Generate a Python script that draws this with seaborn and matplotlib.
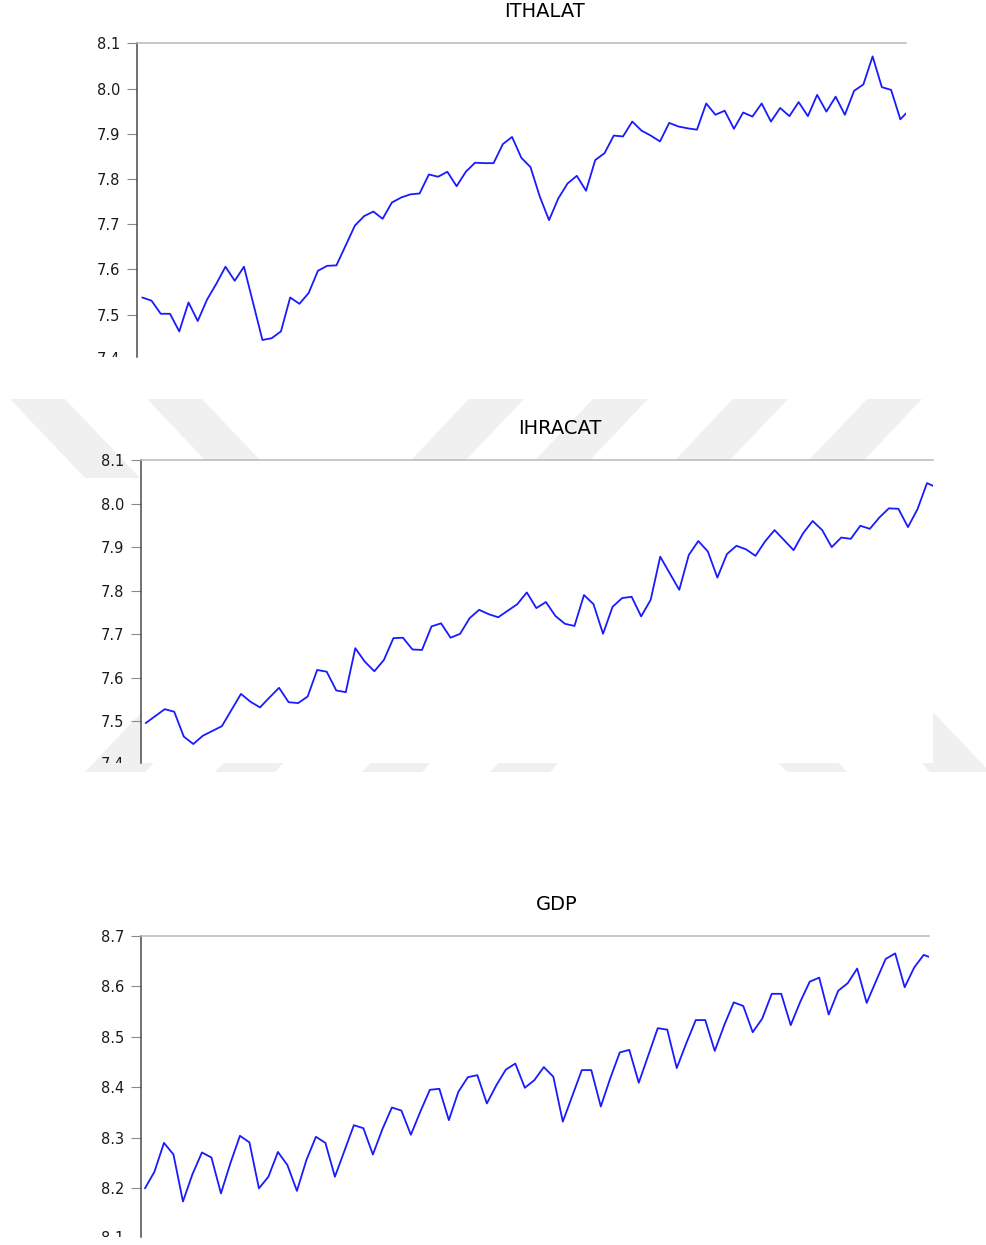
import numpy as np
import pandas as pd
import matplotlib
matplotlib.use("Agg")
import matplotlib.pyplot as plt
import seaborn as sns
from matplotlib.patches import Polygon
from matplotlib.transforms import Bbox, TransformedBbox

# Series values (84 quarterly obs, last one cut by the frame)
ithalat = [7.538, 7.531, 7.502, 7.502, 7.463, 7.527, 7.486, 7.533, 7.568, 7.606,
           7.575, 7.606, 7.525, 7.444, 7.448, 7.463, 7.538, 7.524, 7.548, 7.597,
           7.608, 7.609, 7.653, 7.697, 7.718, 7.728, 7.712, 7.748, 7.759, 7.766,
           7.768, 7.810, 7.805, 7.816, 7.784, 7.816, 7.836, 7.835, 7.835, 7.877,
           7.893, 7.847, 7.826, 7.761, 7.709, 7.757, 7.790, 7.807, 7.774, 7.842,
           7.857, 7.896, 7.894, 7.927, 7.907, 7.896, 7.883, 7.924, 7.916, 7.912,
           7.909, 7.967, 7.942, 7.951, 7.911, 7.947, 7.938, 7.967, 7.927, 7.957,
           7.939, 7.970, 7.939, 7.986, 7.949, 7.982, 7.942, 7.995, 8.009, 8.071,
           8.003, 7.997, 7.932, 7.953]

ihracat = [7.496, 7.512, 7.528, 7.522, 7.465, 7.448, 7.467, 7.478, 7.489, 7.526,
           7.563, 7.545, 7.532, 7.555, 7.577, 7.544, 7.542, 7.557, 7.618, 7.614,
           7.571, 7.567, 7.668, 7.637, 7.615, 7.641, 7.691, 7.692, 7.665, 7.664,
           7.718, 7.725, 7.692, 7.701, 7.737, 7.756, 7.746, 7.739, 7.754, 7.769,
           7.796, 7.760, 7.774, 7.742, 7.724, 7.719, 7.790, 7.769, 7.701, 7.763,
           7.783, 7.786, 7.741, 7.779, 7.878, 7.840, 7.802, 7.882, 7.914, 7.890,
           7.830, 7.884, 7.903, 7.895, 7.880, 7.913, 7.939, 7.916, 7.893, 7.932,
           7.960, 7.939, 7.900, 7.922, 7.919, 7.949, 7.942, 7.968, 7.989, 7.988,
           7.946, 7.987, 8.047, 8.037]

gdp = [8.200, 8.233, 8.290, 8.267, 8.174, 8.228, 8.271, 8.261, 8.190, 8.250,
       8.304, 8.291, 8.200, 8.223, 8.272, 8.246, 8.195, 8.256, 8.302, 8.290,
       8.223, 8.274, 8.325, 8.319, 8.267, 8.317, 8.360, 8.354, 8.306, 8.352,
       8.395, 8.397, 8.335, 8.391, 8.420, 8.424, 8.368, 8.404, 8.435, 8.447,
       8.399, 8.414, 8.440, 8.421, 8.332, 8.383, 8.434, 8.434, 8.362, 8.418,
       8.469, 8.474, 8.409, 8.463, 8.517, 8.514, 8.438, 8.487, 8.533, 8.533,
       8.472, 8.523, 8.568, 8.561, 8.509, 8.536, 8.585, 8.585, 8.523, 8.569,
       8.609, 8.617, 8.544, 8.591, 8.606, 8.635, 8.567, 8.611, 8.654, 8.665,
       8.598, 8.637, 8.662, 8.655]

titles = ["ITHALAT", "IHRACAT", "GDP"]
ticks_ithalat = [7.5, 7.6, 7.7, 7.8, 7.9, 8.0, 8.1]
ticks_ihracat = [7.5, 7.6, 7.7, 7.8, 7.9, 8.0, 8.1]
ticks_gdp = [8.2, 8.3, 8.4, 8.5, 8.6, 8.7]

W, H = 986, 1245

sns.set_style("white")
plt.rcParams["font.family"] = ["DejaVu Sans"]

fig = plt.figure(figsize=(W / 100, H / 100), dpi=100)
fig.patch.set_facecolor("white")


def fx(x):
    return x / W


def fy(y):
    return 1 - y / H


# faint thesis watermark (diagonal stripes), behind the axes
def stripe(x0, x1, ytop, ybot, shift):
    pts = [(x0, ytop), (x1, ytop), (x1 + shift, ybot), (x0 + shift, ybot)]
    poly = Polygon([(fx(a), fy(b)) for a, b in pts], closed=True,
                   transform=fig.transFigure, facecolor="#f0f0f0",
                   edgecolor="none", zorder=-1)
    fig.add_artist(poly)


for x0, sh in [(10, 75), (147, 75), (469, -75), (593, -75), (733, -75), (867, -75)]:
    stripe(x0, x0 + 55, 399, 478, sh)
for x0, sh in [(140, -55), (270, -55), (417, -55), (545, -55), (732, 55), (875, 55)]:
    stripe(x0, x0 + 60, 714, 772, sh)

# panel geometry in pixels: left, right, top, bottom(cut), px per unit
panels = [
    dict(title=titles[0], values=ithalat, ticks=ticks_ithalat, top=8.1,
         box=(137, 905.7, 43.3, 357), scale=452.3, xlim=(-0.57, 82.58),
         title_xy=(545, 11.5), cut_label="7.4", cut_val=7.4),
    dict(title=titles[1], values=ihracat, ticks=ticks_ihracat, top=8.1,
         box=(141, 933.3, 460, 762.7), scale=435.6, xlim=(-0.49, 82.66),
         title_xy=(560, 429), cut_label="7.4", cut_val=7.4),
    dict(title=titles[2], values=gdp, ticks=ticks_gdp, top=8.7,
         box=(140.7, 928.7, 935.7, 1237), scale=505.3, xlim=(-0.45, 82.53),
         title_xy=(557, 905), cut_label="8.1", cut_val=8.1),
]

for p in panels:
    left, right, top, bottom = p["box"]
    ax = fig.add_axes([fx(left), fy(bottom), (right - left) / W, (bottom - top) / H])
    ax.set_facecolor("white")

    df = pd.DataFrame({"t": np.arange(len(p["values"])), "v": p["values"]})
    sns.lineplot(data=df, x="t", y="v", ax=ax, color="#1a1aff", linewidth=1.3)

    ymin = p["top"] - (bottom - top) / p["scale"]
    ax.set_ylim(ymin, p["top"])
    ax.set_xlim(*p["xlim"])
    ax.set_yticks(p["ticks"])
    ax.set_yticklabels([f"{v:.1f}" for v in p["ticks"]])
    ax.set_xticks([])
    ax.set_xlabel("")
    ax.set_ylabel("")

    ax.spines["bottom"].set_visible(False)
    ax.spines["right"].set_visible(False)
    ax.spines["top"].set_color("#b8b8b8")
    ax.spines["top"].set_linewidth(1.1)
    ax.spines["left"].set_color("#4a4a4a")
    ax.spines["left"].set_linewidth(1.1)
    ax.tick_params(axis="y", left=True, direction="out", length=7, width=0.8,
                   color="#8a8a8a", pad=4.8, labelsize=10.5, labelcolor="#1a1a1a")

    fig.text(fx(p["title_xy"][0]), fy(p["title_xy"][1]), p["title"],
             ha="center", va="center", fontsize=14, color="black")

    # lowest tick label is cut in half by the crop of the picture
    label_y = top + (p["top"] - p["cut_val"]) * p["scale"]
    t = fig.text(fx(left - 16.5), fy(label_y), p["cut_label"], ha="right",
                 va="center", fontsize=10.5, color="#1a1a1a")
    t.set_clip_box(TransformedBbox(Bbox.from_extents(0, fy(bottom), 1, 1),
                                   fig.transFigure))
    t.set_clip_on(True)

fig.savefig("out.png", dpi=100)
